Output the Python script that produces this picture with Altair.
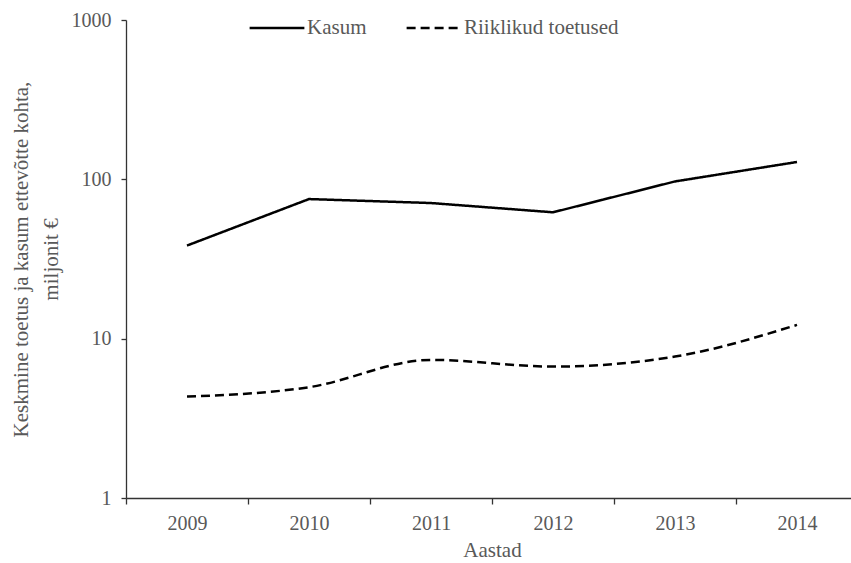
import altair as alt
import pandas as pd

# Average support and profit per company, million euros (log scale)
years = ["2009", "2010", "2011", "2012", "2013", "2014"]
kasum = [38.4, 75.2, 71.0, 62.1, 97.0, 128.5]
toetused = [4.33, 4.96, 7.36, 6.68, 7.72, 12.2]

series_names = ["Kasum", "Riiklikud toetused"]

df = pd.DataFrame({
    "aasta": years * 2,
    "vaartus": kasum + toetused,
    "seeria": [series_names[0]] * len(years) + [series_names[1]] * len(years),
})

FONT = "Liberation Serif"
TEXT = "#595959"

x_enc = alt.X(
    "aasta:O",
    scale=alt.Scale(type="band", range=[0, 732], paddingInner=0, paddingOuter=0),
    axis=alt.Axis(
        title="Aastad",
        labelAngle=0,
        tickBand="extent",
        tickSize=6,
        labelPadding=9,
        titlePadding=6,
    ),
)

y_enc = alt.Y(
    "vaartus:Q",
    scale=alt.Scale(type="log", domain=[1, 1000], nice=False),
    axis=alt.Axis(
        title=["Keskmine toetus ja kasum  ettevõtte kohta,", "miljonit €"],
        values=[1, 10, 100, 1000],
        format="d",
        tickSize=5,
        labelPadding=10,
        titlePadding=10,
        titleLineHeight=30,
        grid=False,
    ),
)

dash_enc = alt.StrokeDash(
    "seeria:N",
    scale=alt.Scale(domain=series_names, range=[[1, 0], [9, 5]]),
    legend=alt.Legend(
        title=None,
        orient="none",
        direction="horizontal",
        legendX=122,
        legendY=-21,
        symbolType="stroke",
        symbolSize=3000,
        symbolStrokeWidth=2.5,
        symbolStrokeColor="black",
        labelFont=FONT,
        labelFontSize=21,
        labelColor=TEXT,
        labelOffset=1,
        columnPadding=34,
    ),
)

base = alt.Chart(df).encode(x=x_enc, y=y_enc, strokeDash=dash_enc)

line_kasum = base.transform_filter(
    alt.datum.seeria == series_names[0]
).mark_line(color="black", strokeWidth=2.5, interpolate="linear")

line_toetused = base.transform_filter(
    alt.datum.seeria == series_names[1]
).mark_line(color="black", strokeWidth=2.5, interpolate="monotone")

chart = (
    alt.layer(line_kasum, line_toetused)
    .properties(
        width=725,
        height=478,
        autosize=alt.AutoSizeParams(type="none"),
        padding={"left": 126, "top": 20, "right": 0, "bottom": 65},
        background="white",
    )
    .configure_view(stroke=None)
    .configure_axis(
        labelFont=FONT,
        labelFontSize=20,
        labelColor=TEXT,
        titleFont=FONT,
        titleFontSize=21,
        titleFontWeight="normal",
        titleColor=TEXT,
        domainColor="#333333",
        tickColor="#333333",
        domainWidth=1.3,
        tickWidth=1.3,
    )
)

chart.save("out.html", embed_options={"renderer": "svg", "actions": False})
